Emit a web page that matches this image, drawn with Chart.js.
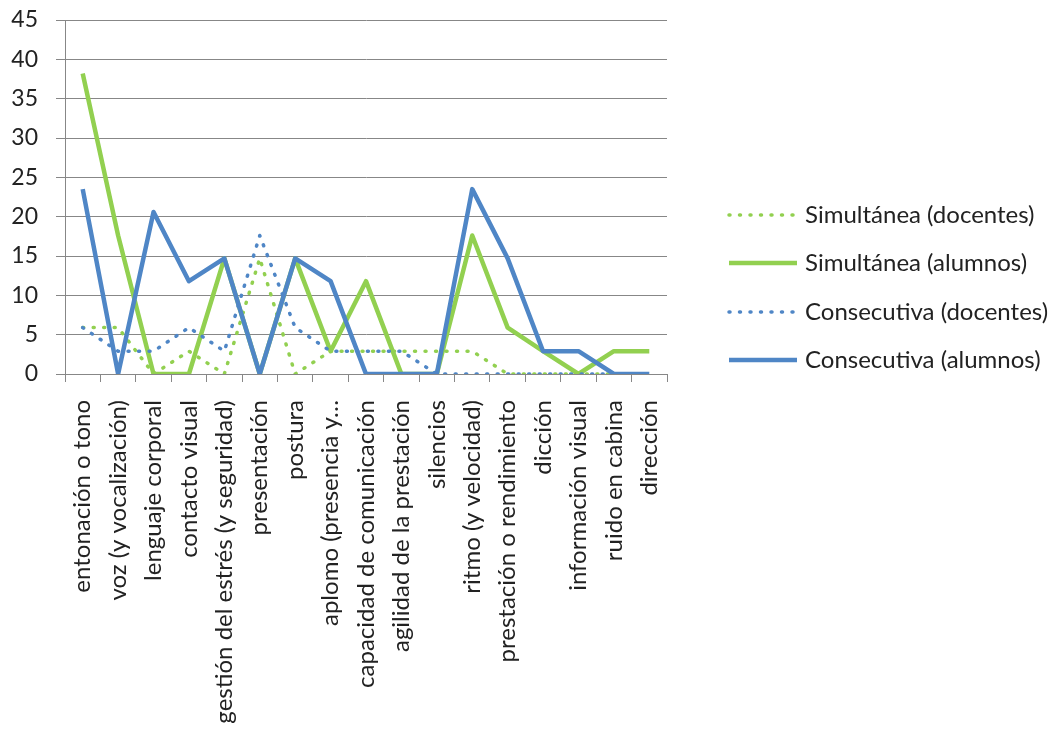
<!DOCTYPE html>
<html>
<head>
<meta charset="utf-8">
<script src="https://cdn.jsdelivr.net/npm/chart.js@4"></script>
<style>
  body { margin: 0; background: #fff; }
</style>
</head>
<body>
<canvas id="competenciasChart" width="1056" height="738"></canvas>
<script>
const categorias = [
    'entonación o tono', 'voz (y vocalización)', 'lenguaje corporal', 'contacto visual',
    'gestión del estrés (y seguridad)', 'presentación', 'postura', 'aplomo (presencia y…',
    'capacidad de comunicación', 'agilidad de la prestación', 'silencios', 'ritmo (y velocidad)',
    'prestación o rendimiento', 'dicción', 'información visual', 'ruido en cabina', 'dirección'
];
const simDocentes = [5.9, 5.9, 0, 2.9, 0, 14.7, 0, 2.9, 2.9, 2.9, 2.9, 2.9, 0, 0, 0, 0, 0];
const simAlumnos = [38.2, 17.6, 0, 0, 14.7, 0, 14.7, 2.9, 11.8, 0, 0, 17.6, 5.9, 2.9, 0, 2.9, 2.9];
const conDocentes = [5.9, 2.9, 2.9, 5.9, 2.9, 17.6, 5.9, 2.9, 2.9, 2.9, 0, 0, 0, 0, 0, 0, 0];
const conAlumnos = [23.5, 0, 20.6, 11.8, 14.7, 0, 14.7, 11.8, 0, 0, 0, 23.5, 14.7, 2.9, 2.9, 0, 0];
const yTicks = [0, 5, 10, 15, 20, 25, 30, 35, 40, 45];

const VERDE = '#92D050';
const AZUL = '#4F86C6';
const GRIS = '#878787';
const FUENTE = 'Lato, "Open Sans", sans-serif';
const PUNTOS = [1, 9.5];

function serie(label, data, color, punteada, order) {
    return {
        label: label,
        data: data,
        borderColor: color,
        backgroundColor: color,
        borderWidth: punteada ? 3.5 : 4.5,
        borderDash: punteada ? PUNTOS : [],
        borderCapStyle: punteada ? 'round' : 'butt',
        borderJoinStyle: 'round',
        pointRadius: 0,
        tension: 0,
        fill: false,
        order: order
    };
}

// leyenda a la derecha, dibujada a mano para poder mostrar las líneas punteadas
const leyenda = {
    id: 'leyenda',
    afterDraw(chart) {
        const ctx = chart.ctx;
        const filas = [215, 263, 312, 360];
        ctx.save();
        chart.data.datasets.forEach((ds, i) => {
            const y = filas[i];
            ctx.beginPath();
            ctx.strokeStyle = ds.borderColor;
            ctx.lineWidth = ds.borderWidth;
            ctx.lineCap = ds.borderCapStyle;
            ctx.setLineDash(ds.borderDash);
            ctx.moveTo(729, y);
            ctx.lineTo(797, y);
            ctx.stroke();
            ctx.setLineDash([]);
            ctx.fillStyle = '#222';
            ctx.font = '24px ' + FUENTE;
            ctx.textBaseline = 'middle';
            ctx.textAlign = 'left';
            ctx.fillText(ds.label, 805, y);
        });
        ctx.restore();
    }
};

new Chart(document.getElementById('competenciasChart').getContext('2d'), {
    type: 'line',
    data: {
        labels: categorias,
        datasets: [
            serie('Simultánea (docentes)', simDocentes, VERDE, true, 3),
            serie('Simultánea (alumnos)', simAlumnos, VERDE, false, 2),
            serie('Consecutiva (docentes)', conDocentes, AZUL, true, 1),
            serie('Consecutiva (alumnos)', conAlumnos, AZUL, false, 0)
        ]
    },
    options: {
        responsive: false,
        animation: false,
        devicePixelRatio: 1,
        layout: { padding: { top: 20, right: 389, left: 0, bottom: 0 } },
        plugins: {
            legend: { display: false },
            tooltip: { enabled: false }
        },
        scales: {
            x: {
                offset: true,
                afterFit: s => { s.height = 364; s.paddingLeft = 0; s.paddingRight = 0; },
                grid: {
                    offset: true,
                    drawOnChartArea: false,
                    color: GRIS,
                    tickLength: 8
                },
                border: { color: GRIS, width: 1 },
                ticks: {
                    autoSkip: false,
                    minRotation: 90,
                    maxRotation: 90,
                    padding: 18,
                    color: '#222',
                    font: { family: FUENTE, size: 24 }
                }
            },
            y: {
                min: 0,
                max: 45,
                afterFit: s => { s.width = 65; s.paddingTop = 0; s.paddingBottom = 0; },
                afterBuildTicks: s => { s.ticks = yTicks.map(v => ({ value: v })); },
                grid: { color: GRIS, tickLength: 9 },
                border: { color: GRIS, width: 1 },
                ticks: {
                    padding: 18,
                    color: '#222',
                    font: { family: FUENTE, size: 23 }
                }
            }
        }
    },
    plugins: [leyenda]
});
</script>
</body>
</html>
